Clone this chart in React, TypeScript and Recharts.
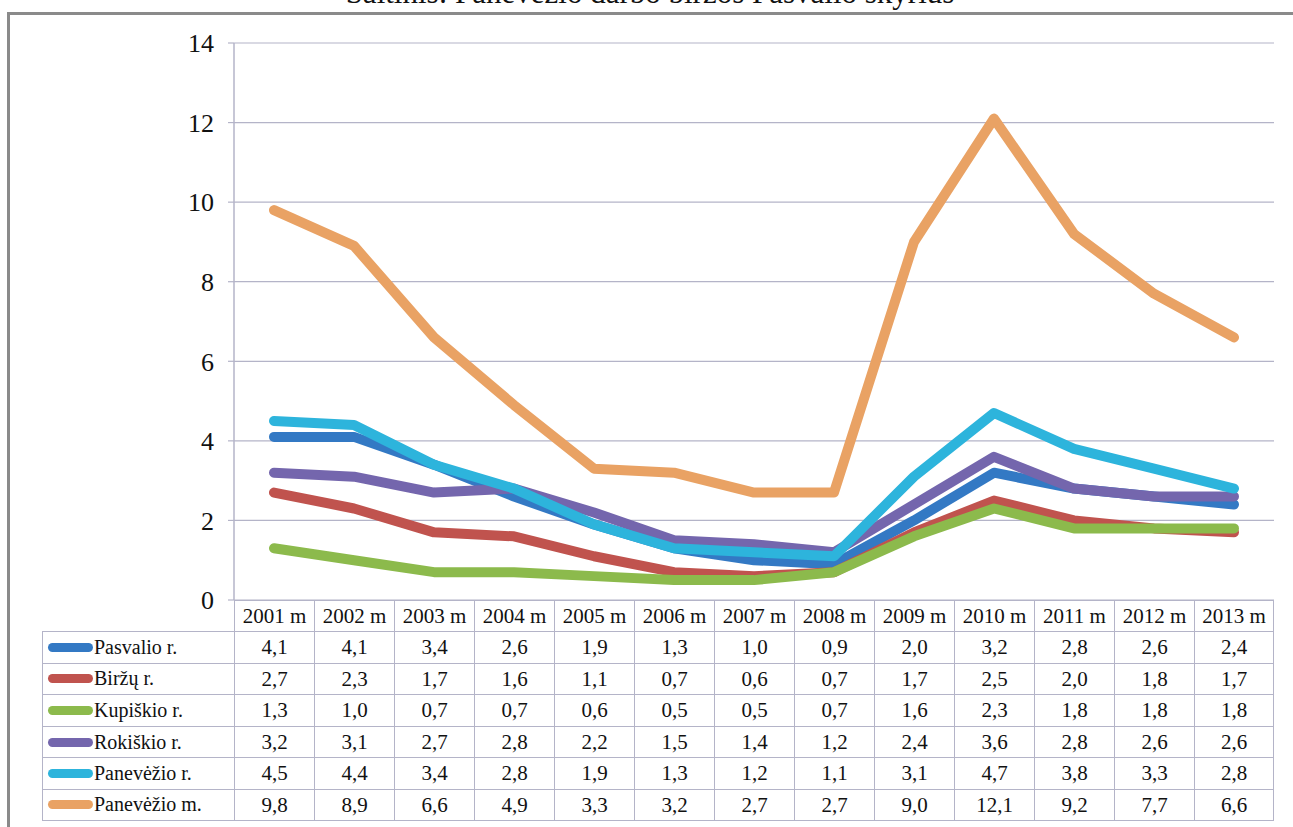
import React from 'react';
import { LineChart, Line, XAxis, YAxis, CartesianGrid } from 'recharts';

const years = ['2001 m', '2002 m', '2003 m', '2004 m', '2005 m', '2006 m', '2007 m', '2008 m', '2009 m', '2010 m', '2011 m', '2012 m', '2013 m'];
const pasvalio = [4.1, 4.1, 3.4, 2.6, 1.9, 1.3, 1.0, 0.9, 2.0, 3.2, 2.8, 2.6, 2.4];
const birzu = [2.7, 2.3, 1.7, 1.6, 1.1, 0.7, 0.6, 0.7, 1.7, 2.5, 2.0, 1.8, 1.7];
const kupiskio = [1.3, 1.0, 0.7, 0.7, 0.6, 0.5, 0.5, 0.7, 1.6, 2.3, 1.8, 1.8, 1.8];
const rokiskio = [3.2, 3.1, 2.7, 2.8, 2.2, 1.5, 1.4, 1.2, 2.4, 3.6, 2.8, 2.6, 2.6];
const panevezioR = [4.5, 4.4, 3.4, 2.8, 1.9, 1.3, 1.2, 1.1, 3.1, 4.7, 3.8, 3.3, 2.8];
const panevezioM = [9.8, 8.9, 6.6, 4.9, 3.3, 3.2, 2.7, 2.7, 9.0, 12.1, 9.2, 7.7, 6.6];
const yTicks = [0, 2, 4, 6, 8, 10, 12, 14];

const series = [
  { key: 'pasvalio', name: 'Pasvalio r.', values: pasvalio, color: '#3379c4' },
  { key: 'birzu', name: 'Biržų r.', values: birzu, color: '#c0534e' },
  { key: 'kupiskio', name: 'Kupiškio r.', values: kupiskio, color: '#8cba4c' },
  { key: 'rokiskio', name: 'Rokiškio r.', values: rokiskio, color: '#7466ad' },
  { key: 'panevezioR', name: 'Panevėžio r.', values: panevezioR, color: '#2db4dc' },
  { key: 'panevezioM', name: 'Panevėžio m.', values: panevezioM, color: '#e9a264' },
];

const data = years.map((y, i) => {
  const row: Record<string, any> = { year: y };
  series.forEach((s) => { row[s.key] = s.values[i]; });
  return row;
});

const fmt = (v: number) => v.toFixed(1).replace('.', ',');

const FONT = 'Liberation Serif';
const GRID = '#b4b4c8';
const PLOT_LEFT = 234;
const PLOT_RIGHT = 1274;
const PLOT_TOP = 43;
const PLOT_BOTTOM = 600;
const CHART_H = 640;
const LABEL_W = 192;
const COL_W = (PLOT_RIGHT - PLOT_LEFT) / years.length;
const HEADER_H = 31;
const ROW_H = 31.6;

const txt: React.CSSProperties = { fontFamily: FONT, color: '#111' };

export default function App() {
  return (
    <div style={{ position: 'absolute', left: 0, top: 0, width: 1293, height: 827, overflow: 'hidden', background: '#fff', fontFamily: FONT }}>
      <div style={{ ...txt, position: 'absolute', left: 0, width: 1300, top: -23, textAlign: 'center', fontSize: 31, lineHeight: 1, whiteSpace: 'nowrap' }}>
        Šaltinis: Panevėžio darbo biržos Pasvalio skyrius
      </div>
      <div style={{ position: 'absolute', left: 7, top: 12, width: 1400, height: 900, borderLeft: '3px solid #8a8a8a', borderTop: '3px solid #8a8a8a' }} />
      <div style={{ position: 'absolute', left: 0, top: 0 }}>
        <LineChart width={1293} height={CHART_H} data={data} margin={{ top: PLOT_TOP, right: 1293 - PLOT_RIGHT, bottom: CHART_H - PLOT_BOTTOM, left: PLOT_LEFT - 60 }}>
          <CartesianGrid vertical={false} stroke={GRID} strokeWidth={1.2} />
          <XAxis dataKey="year" hide padding={{ left: COL_W / 2, right: COL_W / 2 }} />
          <YAxis
            width={60}
            domain={[0, 14]}
            ticks={yTicks}
            interval={0}
            axisLine={{ stroke: GRID, strokeWidth: 1.5 }}
            tickLine={{ stroke: GRID, strokeWidth: 1.2 }}
            tickSize={6}
            tickMargin={14}
            tick={{ fill: '#111', fontSize: 26, fontFamily: FONT }}
          />
          {series.map((s) => (
            <Line
              key={s.key}
              dataKey={s.key}
              name={s.name}
              type="linear"
              stroke={s.color}
              strokeWidth={10}
              strokeLinecap="round"
              strokeLinejoin="round"
              dot={false}
              activeDot={false}
              isAnimationActive={false}
            />
          ))}
        </LineChart>
      </div>
      <div style={{ position: 'absolute', left: PLOT_LEFT, top: PLOT_BOTTOM, display: 'flex' }}>
        {years.map((y, i) => (
          <div key={y} style={{ ...txt, width: COL_W, height: HEADER_H, boxSizing: 'border-box', borderTop: `1px solid ${GRID}`, borderLeft: `1px solid ${GRID}`, borderRight: i === years.length - 1 ? `1px solid ${GRID}` : 'none', fontSize: 21, lineHeight: `${HEADER_H}px`, textAlign: 'center', whiteSpace: 'nowrap' }}>
            {y}
          </div>
        ))}
      </div>
      {series.map((s, r) => (
        <div key={s.key} style={{ position: 'absolute', left: PLOT_LEFT - LABEL_W, top: PLOT_BOTTOM + HEADER_H + r * ROW_H, display: 'flex' }}>
          <div style={{ ...txt, width: LABEL_W, height: ROW_H, boxSizing: 'border-box', borderTop: `1px solid ${GRID}`, borderLeft: `1px solid ${GRID}`, borderBottom: r === series.length - 1 ? `1px solid ${GRID}` : 'none', display: 'flex', alignItems: 'center', fontSize: 20, whiteSpace: 'nowrap' }}>
            <span style={{ display: 'inline-block', width: 45, height: 9, borderRadius: 5, background: s.color, marginLeft: 5, marginRight: 1, flexShrink: 0 }} />
            <span style={txt}>{s.name}</span>
          </div>
          {s.values.map((v, i) => (
            <div key={i} style={{ ...txt, width: COL_W, height: ROW_H, boxSizing: 'border-box', borderTop: `1px solid ${GRID}`, borderLeft: `1px solid ${GRID}`, borderRight: i === s.values.length - 1 ? `1px solid ${GRID}` : 'none', borderBottom: r === series.length - 1 ? `1px solid ${GRID}` : 'none', fontSize: 21, lineHeight: `${ROW_H}px`, textAlign: 'center' }}>
              {fmt(v)}
            </div>
          ))}
        </div>
      ))}
    </div>
  );
}
